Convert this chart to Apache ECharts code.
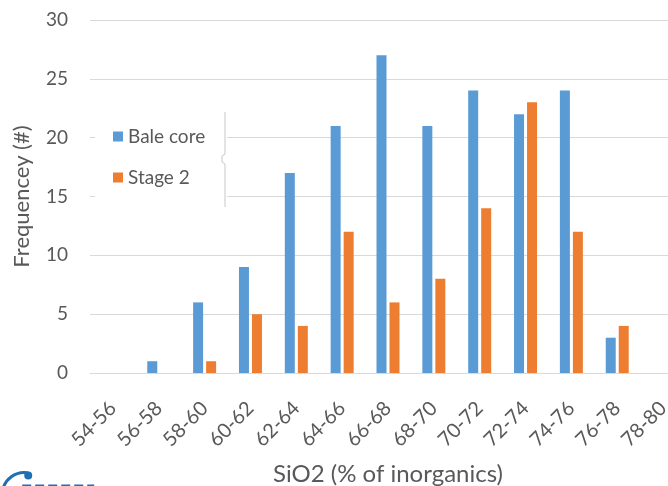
<!DOCTYPE html>
<html>
<head>
<meta charset="utf-8">
<script src="https://cdn.jsdelivr.net/npm/echarts@6/dist/echarts.min.js"></script>
<style>
  html, body { margin: 0; padding: 0; background: #fff; overflow: hidden; }
  #chart { width: 668px; height: 486px; }
</style>
</head>
<body>
<div id="chart"></div>
<script>
// SiO2 content bins (% of inorganics)
const categories = ['54-56', '56-58', '58-60', '60-62', '62-64', '64-66', '66-68',
                    '68-70', '70-72', '72-74', '74-76', '76-78', '78-80'];
const baleCore = [0, 1, 6, 9, 17, 21, 27, 21, 24, 22, 24, 3, 0];
const stage2   = [0, 0, 1, 5, 4, 12, 6, 8, 14, 23, 12, 4, 0];
const yTicks = { min: 0, max: 30, interval: 5 };

const FONT = 'Lato, "Open Sans", sans-serif';
const TEXT = '#595959';
const GRID = '#d9d9d9';

const chart = echarts.init(document.getElementById('chart'));
chart.setOption({
  animation: false,
  textStyle: { fontFamily: FONT },
  // the plot area runs a little past the right edge of the page
  grid: { left: 90, top: 20, bottom: 113, width: 596, outerBoundsMode: 'none', containLabel: false },
  legend: {
    orient: 'vertical',
    left: 95, top: 112,
    backgroundColor: '#fff',
    padding: [15, 22, 19, 18],
    itemWidth: 10, itemHeight: 10,
    itemGap: 22,
    icon: 'rect',
    textStyle: { fontFamily: FONT, fontSize: 19, lineHeight: 19, color: TEXT },
    data: ['Bale core', 'Stage 2']
  },
  xAxis: {
    type: 'category',
    data: categories,
    name: 'SiO2 (% of inorganics)',
    nameLocation: 'middle',
    nameGap: 89,
    nameTextStyle: { fontFamily: FONT, fontSize: 24, color: TEXT },
    axisLine: { lineStyle: { color: GRID } },
    axisTick: { show: false },
    axisLabel: { rotate: 45, fontSize: 20, color: TEXT, margin: 32, interval: 0 }
  },
  yAxis: {
    type: 'value',
    min: yTicks.min, max: yTicks.max, interval: yTicks.interval,
    name: 'Frequencey (#)',
    nameLocation: 'middle',
    nameGap: 57,
    nameTextStyle: { fontFamily: FONT, fontSize: 22, color: TEXT },
    axisLine: { show: false },
    axisTick: { show: false },
    axisLabel: { fontSize: 19, color: TEXT, margin: 22 },
    splitLine: { lineStyle: { color: GRID, width: 1 } }
  },
  series: [
    {
      name: 'Bale core', type: 'bar', data: baleCore,
      barWidth: 10, barGap: '30%',
      itemStyle: { color: '#5B9BD5' }
    },
    {
      name: 'Stage 2', type: 'bar', data: stage2,
      barWidth: 10,
      itemStyle: { color: '#ED7D31' }
    }
  ],
  graphic: [
    {
      type: 'polyline', silent: true, z: 100,
      shape: { points: [[225, 112], [225, 154], [222, 156], [222, 162], [225, 164], [225, 207]] },
      style: { stroke: '#c8c8c8', lineWidth: 1, fill: null }
    },
    {
      type: 'group', left: 0, top: 470, silent: true,
      children: [
        { type: 'arc', shape: { cx: 30, cy: 24, r: 22, startAngle: Math.PI * 1.05, endAngle: Math.PI * 1.55 },
          style: { stroke: '#1f6fb5', lineWidth: 3, fill: null } },
        { type: 'circle', shape: { cx: 34, cy: 5, r: 4 }, style: { fill: '#1f6fb5' } },
        { type: 'line', shape: { x1: 28, y1: 15, x2: 100, y2: 15 }, style: { stroke: '#1f6fb5', lineWidth: 2, lineDash: [9, 4] } }
      ]
    }
  ]
});
</script>
</body>
</html>
